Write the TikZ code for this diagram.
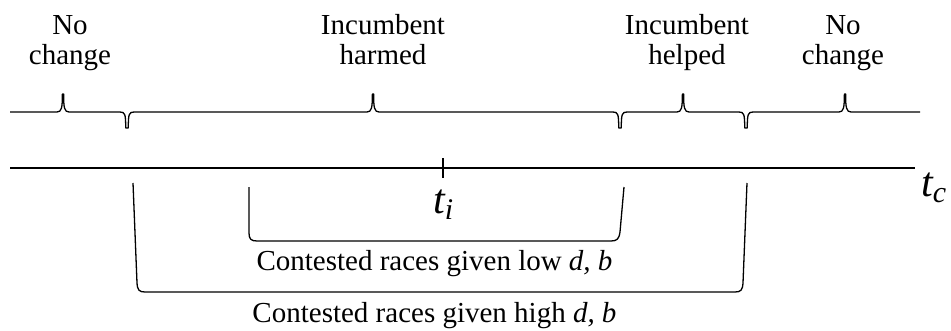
\documentclass[tikz,border=0pt]{standalone}
\usepackage{fontspec}
\setmainfont{Liberation Serif}
\begin{document}
\begin{tikzpicture}[x=1pt,y=-1pt,
  lbl/.style={inner sep=0pt, align=center, font=\fontsize{29}{29.5}\selectfont},
  captext/.style={inner sep=0pt, anchor=base, font=\fontsize{29}{30}\selectfont},
  varlbl/.style={inner sep=0pt, anchor=base west, font=\fontsize{42}{44}\selectfont},
  ln/.style={line width=1.3pt, line join=round},
  axisline/.style={line width=1.6pt}]
\useasboundingbox (0,0) rectangle (951,330);
% top labels (anchor base = last line)
\node[lbl, anchor=base] (nc1) at (70,64) {No\\change};
\node[lbl, anchor=base] (ih) at (383,64) {Incumbent\\harmed};
\node[lbl, anchor=base] (ihp) at (687,64) {Incumbent\\helped};
\node[lbl, anchor=base] (nc2) at (843,64) {No\\change};
% brace line
\def\yb{112}
\draw[ln] (10,\yb)
  -- (57,\yb) .. controls (61.5,\yb) and (62.4,108) .. (62.4,94) -- (63.6,94) .. controls (63.6,108) and (64.5,\yb) .. (69,\yb)
  -- (120,\yb) .. controls (125,\yb) and (125.7,114) .. (125.7,128) -- (128.3,128) .. controls (128.3,114) and (129,\yb) .. (134,\yb)
  -- (367,\yb) .. controls (371.5,\yb) and (372.4,108) .. (372.4,94) -- (373.6,94) .. controls (373.6,108) and (374.5,\yb) .. (379,\yb)
  -- (613,\yb) .. controls (618,\yb) and (618.7,114) .. (618.7,128) -- (621.3,128) .. controls (621.3,114) and (622,\yb) .. (627,\yb)
  -- (677,\yb) .. controls (681.5,\yb) and (682.4,108) .. (682.4,94) -- (683.6,94) .. controls (683.6,108) and (684.5,\yb) .. (689,\yb)
  -- (739,\yb) .. controls (744,\yb) and (744.7,114) .. (744.7,128) -- (747.3,128) .. controls (747.3,114) and (748,\yb) .. (753,\yb)
  -- (839,\yb) .. controls (843.5,\yb) and (844.4,108) .. (844.4,94) -- (845.6,94) .. controls (845.6,108) and (846.5,\yb) .. (851,\yb)
  -- (920,\yb);
% axis
\coordinate (axL) at (10,168);
\coordinate (axR) at (915,168);
\draw[axisline] (axL) -- (axR);
\coordinate (tickT) at (443,158);
\coordinate (tickB) at (443,178);
\draw[line width=1.5pt] (tickT) -- (tickB);
\node[varlbl] (ti) at (433,213) {\itshape t\raisebox{-6pt}{\fontsize{30}{30}\selectfont i}};
\node[varlbl] (tc) at (921,196) {\itshape t\raisebox{-6pt}{\fontsize{30}{30}\selectfont c}};
% inner bracket
\draw[ln] (249,187) -- (249,233) .. controls (249,239) and (251,241) .. (257,241)
  -- (611,241) .. controls (617,241) and (619,239) .. (620,232) -- (624,187);
% outer bracket
\draw[ln] (133,183) -- (137,283) .. controls (137.5,290) and (139,292) .. (145,292)
  -- (735,292) .. controls (741,292) and (742.5,290) .. (743,283) -- (747,183);
\node[captext] (low) at (434.5,270) {Contested races given low \textit{d, b}};
\node[captext] (high) at (434.5,322) {Contested races given high \textit{d, b}};
\end{tikzpicture}
\end{document}
